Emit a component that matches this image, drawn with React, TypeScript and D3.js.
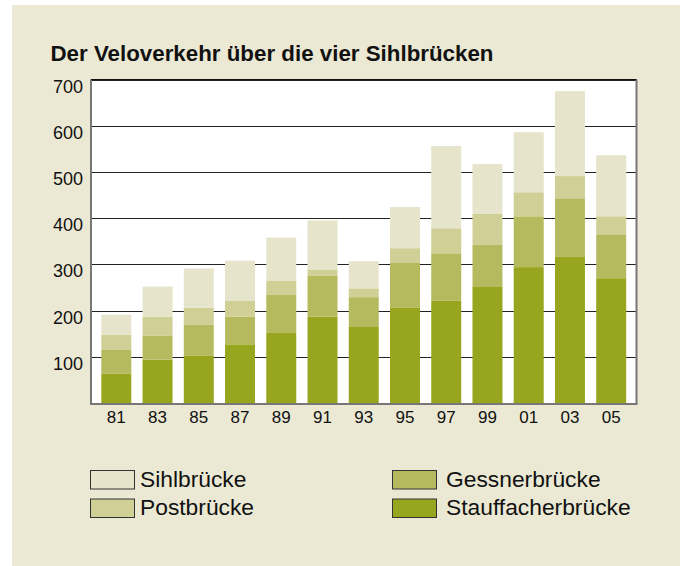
import React from "react";
import * as d3 from "d3";

const years = ["81", "83", "85", "87", "89", "91", "93", "95", "97", "99", "01", "03", "05"];
const stauffacher = [64, 94, 103, 127, 153, 187, 166, 207, 222, 251, 294, 316, 270];
const gessner = [52, 52, 67, 60, 82, 89, 63, 96, 102, 91, 110, 127, 95];
const post = [32, 41, 36, 35, 30, 13, 19, 32, 54, 67, 52, 48, 39];
const sihl = [43, 65, 85, 86, 93, 106, 59, 89, 178, 108, 130, 184, 132];
const yTicks = [100, 200, 300, 400, 500, 600, 700];
const seriesNames = ["Stauffacherbrücke", "Gessnerbrücke", "Postbrücke", "Sihlbrücke"];
const seriesColors = ["#97a61e", "#b6ba5e", "#cfcf96", "#e6e5cc"];
const title = "Der Veloverkehr über die vier Sihlbrücken";

const FONT = "'Liberation Sans', Arial, Helvetica, sans-serif";

export default function App() {
  const W = 680, H = 566;
  const left = 91, right = 636.5, top = 79.5, bottom = 403;
  const x = d3.scaleBand<string>().domain(years).range([left, right]).paddingInner(0.273).paddingOuter(0.25);
  const y = d3.scaleLinear().domain([0, 700]).range([bottom, top]);
  const table = years.map((yr, i) => ({
    year: yr,
    s0: stauffacher[i],
    s1: gessner[i],
    s2: post[i],
    s3: sihl[i],
  }));
  const stack = d3.stack<any>().keys(["s0", "s1", "s2", "s3"]);
  const layers = stack(table);

  const legendItems = [
    { name: seriesNames[3], color: seriesColors[3], col: 0, row: 0 },
    { name: seriesNames[2], color: seriesColors[2], col: 0, row: 1 },
    { name: seriesNames[1], color: seriesColors[1], col: 1, row: 0 },
    { name: seriesNames[0], color: seriesColors[0], col: 1, row: 1 },
  ];
  const legendX = [90, 392];
  const legendTextX = [140, 446];
  const legendY = [470, 498.5];

  return (
    <svg width={W} height={H} style={{ position: "absolute", left: 0, top: 0 }} fontFamily={FONT}>
      <rect x={12} y={5} width={W - 12} height={H - 5} fill="#ebe9d4" />
      <text x={50.5} y={61} fontSize={21.5} fontWeight="bold" fill="#111" textLength={443} lengthAdjust="spacingAndGlyphs">{title}</text>
      <rect x={left} y={top} width={right - left} height={bottom - top} fill="#fff" />
      {yTicks.map((t) => (
        <line key={t} x1={left} x2={right} y1={Math.round(y(t)) + 0.5} y2={Math.round(y(t)) + 0.5} stroke="#222" strokeWidth={1} />
      ))}
      {layers.map((layer, li) => (
        <g key={li} fill={seriesColors[li]}>
          {layer.map((d, i) => (
            <rect key={i} x={x(years[i])!} width={x.bandwidth()} y={y(d[1])} height={y(d[0]) - y(d[1])} />
          ))}
        </g>
      ))}
      <line x1={left} x2={left} y1={top} y2={bottom + 1} stroke="#777" strokeWidth={2} />
      <line x1={right} x2={right} y1={top} y2={bottom + 1} stroke="#777" strokeWidth={2} />
      <line x1={left - 1} x2={right + 1} y1={bottom + 1} y2={bottom + 1} stroke="#777" strokeWidth={2} />
      <line x1={left} x2={right} y1={top} y2={top} stroke="#111" strokeWidth={1} />
      {yTicks.map((t) => (
        <text key={t} x={83} y={y(t) + 13} fontSize={18} textAnchor="end" fill="#111">{t}</text>
      ))}
      {years.map((yr) => (
        <text key={yr} x={x(yr)! + x.bandwidth() / 2} y={422.5} fontSize={17} textAnchor="middle" fill="#111">{yr}</text>
      ))}
      {legendItems.map((it) => (
        <g key={it.name}>
          <rect x={legendX[it.col] + 0.5} y={legendY[it.row] + 0.5} width={44} height={18.5} fill={it.color} stroke="#333" strokeWidth={1} />
          <text x={legendTextX[it.col]} y={legendY[it.row] + 16.8} fontSize={22.8} fill="#111">{it.name}</text>
        </g>
      ))}
    </svg>
  );
}
